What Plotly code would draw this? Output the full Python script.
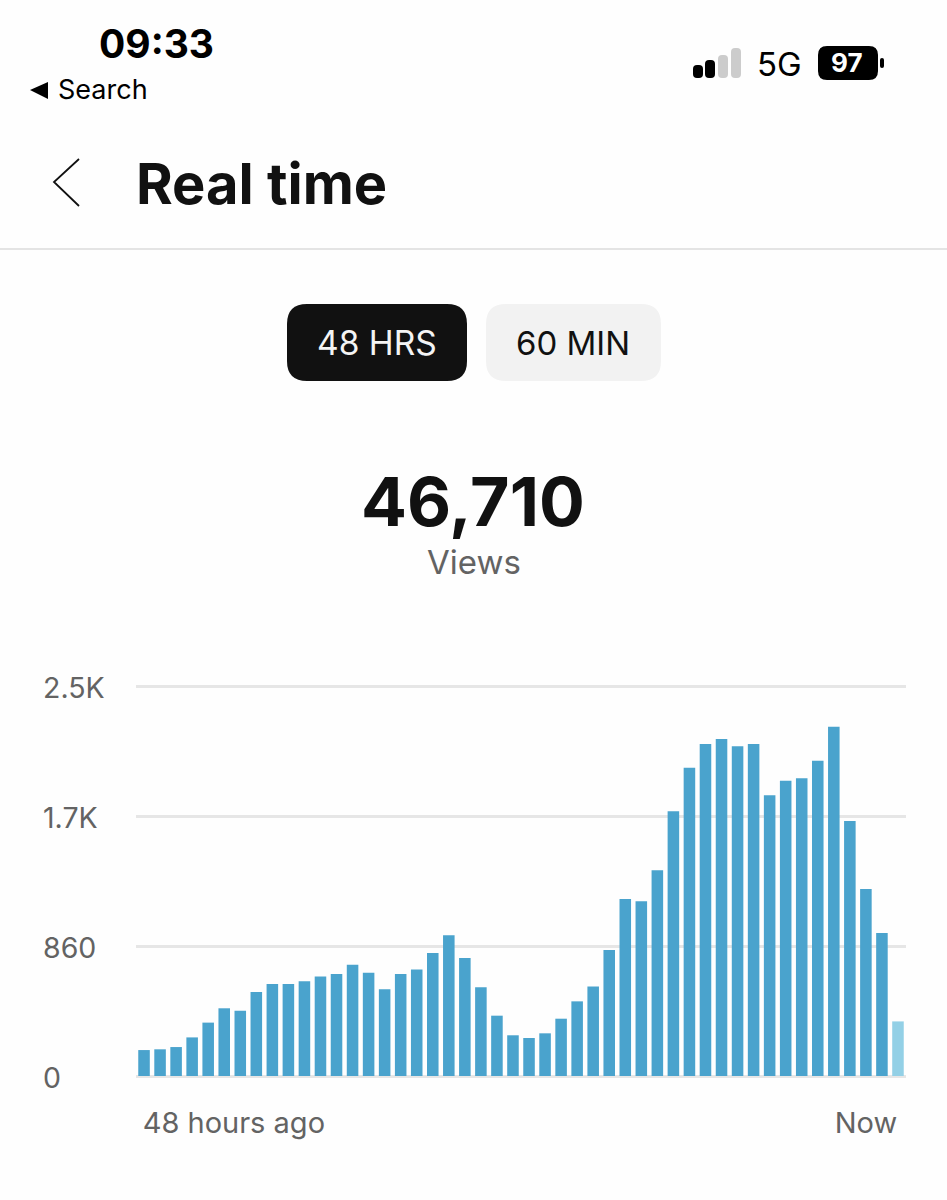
import plotly.graph_objects as go

W = 947
H = 1200

# Bars, one per hour, oldest first (last hour is still filling up)
hours = list(range(48))
views = [172, 177, 192, 256, 354, 449, 433, 557,
         610, 610, 628, 659, 676, 738, 685, 575,
         676, 707, 815, 933, 782, 588, 400, 270,
         252, 283, 380, 495, 594, 835, 1174, 1158,
         1364, 1755, 2044, 2201, 2234, 2186, 2201, 1861,
         1958, 1974, 2091, 2316, 1691, 1240, 948, 362]
y_ticks = [0, 860, 1720, 2580]
y_labels = ['0', '860', '1.7K', '2.5K']
x_ticks = [5.6, 45]
x_labels = ['48 hours ago', 'Now']

BLUE = '#4aa3cd'
BLUE_LIGHT = '#93d0e6'
GRID = '#e6e6e6'
GREY = '#636363'
INK = '#111111'
FONT = 'Inter'


# All page furniture is measured in screen pixels, so convert to paper coords
def px(x):
    return x / W


def py(y):
    return 1 - y / H


def text(x, y, s, size, color=INK, bold=False, anchor='left'):
    return dict(
        x=px(x), y=py(y), xref='paper', yref='paper', text=f'<b>{s}</b>' if bold else s,
        showarrow=False, xanchor=anchor, yanchor='middle',
        font=dict(family=FONT, size=size, color=color),
    )


def round_rect(x0, y0, x1, y1, r, fill):
    path = (
        f'M {px(x0 + r)} {py(y0)} L {px(x1 - r)} {py(y0)} '
        f'Q {px(x1)} {py(y0)} {px(x1)} {py(y0 + r)} L {px(x1)} {py(y1 - r)} '
        f'Q {px(x1)} {py(y1)} {px(x1 - r)} {py(y1)} L {px(x0 + r)} {py(y1)} '
        f'Q {px(x0)} {py(y1)} {px(x0)} {py(y1 - r)} L {px(x0)} {py(y0 + r)} '
        f'Q {px(x0)} {py(y0)} {px(x0 + r)} {py(y0)} Z'
    )
    return dict(type='path', path=path, xref='paper', yref='paper', fillcolor=fill, line_width=0)


fig = go.Figure(go.Bar(
    x=hours,
    y=views,
    marker=dict(color=[BLUE] * 47 + [BLUE_LIGHT], line_width=0),
))

shapes = [
    # header rule
    dict(type='line', x0=0, x1=1, y0=py(249), y1=py(249), xref='paper', yref='paper',
         line=dict(color='#e4e4e4', width=2)),
    # back chevron
    dict(type='path', path=f'M {px(79)} {py(159)} L {px(54)} {py(182)} L {px(79)} {py(206)}',
         xref='paper', yref='paper', line=dict(color=INK, width=1.8)),
    # search triangle
    dict(type='path', path=f'M {px(30)} {py(90)} L {px(48)} {py(82)} L {px(48)} {py(99)} Z',
         xref='paper', yref='paper', fillcolor='#000000', line_width=0),
    # toggle buttons
    round_rect(287, 304, 467, 381, 20, INK),
    round_rect(486, 304, 661, 381, 20, '#f2f2f2'),
    # signal bars
    round_rect(693, 65, 703, 78, 4, '#000000'),
    round_rect(705, 60, 715, 78, 4, '#000000'),
    round_rect(718, 55, 728, 78, 4, '#cccccc'),
    round_rect(731, 48, 741, 78, 4, '#cccccc'),
    # battery
    round_rect(818, 46, 878, 80, 9, '#000000'),
    round_rect(880, 58, 884, 68, 2, '#000000'),
]

annotations = [
    text(97, 44, '09:33', 39, '#000000', bold=True),
    text(56, 90, 'Search', 27, '#000000'),
    text(755, 64, '5G', 33, '#000000'),
    text(847, 63, '97', 26, '#ffffff', bold=True, anchor='center'),
    text(134, 184, 'Real time', 56, bold=True),
    text(377, 343, '48 HRS', 33.5, '#f4f4f4', anchor='center'),
    text(573, 343, '60 MIN', 33, anchor='center'),
    text(473, 501, '46,710', 68, bold=True, anchor='center'),
    text(474, 562, 'Views', 33, GREY, anchor='center'),
]
# y labels are left aligned in the app, so they sit at a fixed x but follow the y scale
for val, lab in zip(y_ticks, y_labels):
    annotations.append(dict(
        x=px(41), y=val, xref='paper', yref='y', text=lab, showarrow=False, yshift=-1,
        xanchor='left', yanchor='middle', font=dict(family=FONT, size=28.5, color=GREY),
    ))

fig.update_layout(
    width=W,
    height=H,
    margin=dict(l=0, r=0, t=0, b=0),
    paper_bgcolor='#fefefe',
    plot_bgcolor='#fefefe',
    showlegend=False,
    bargap=0.28,
    shapes=shapes,
    annotations=annotations,
    xaxis=dict(
        domain=[px(136), px(906)],
        range=[-0.5, 47.5],
        tickmode='array',
        tickvals=x_ticks,
        ticktext=x_labels,
        tickfont=dict(family=FONT, size=29, color=GREY),
        ticks='outside',
        ticklen=21,
        tickcolor='rgba(0,0,0,0)',
        showgrid=False,
        zeroline=False,
        showline=False,
    ),
    # a little head room above the top tick so plotly still draws its grid line
    yaxis=dict(
        domain=[py(1076), py(680)],
        range=[0, 2626],
        tickmode='array',
        tickvals=y_ticks,
        showticklabels=False,
        showgrid=True,
        gridcolor=GRID,
        gridwidth=3,
        zeroline=True,
        zerolinecolor=GRID,
        zerolinewidth=3,
    ),
)

fig.write_html('out.html', config={'displayModeBar': False},
               post_script="document.body.style.margin='0';")
